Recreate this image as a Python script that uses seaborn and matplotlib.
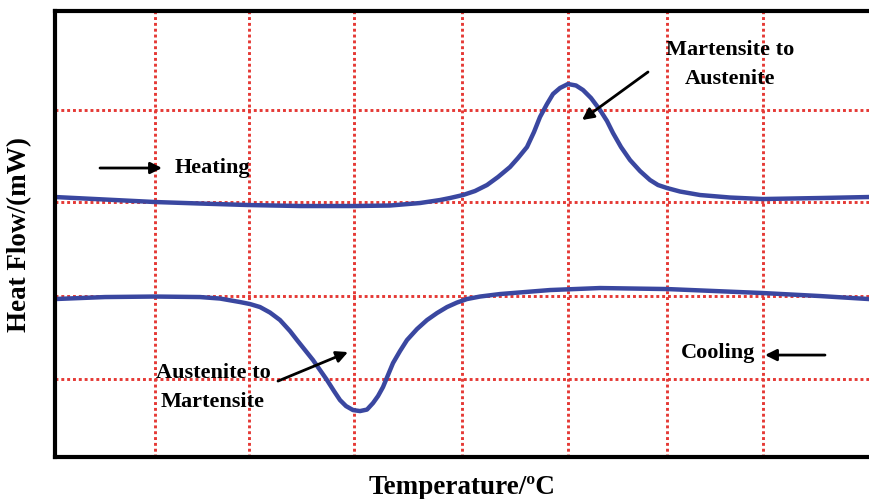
import matplotlib
matplotlib.use('Agg')
import matplotlib.pyplot as plt
import seaborn as sns
import pandas as pd

# heating run (upper trace)
heat_temp = [0.00, 0.50, 1.00, 1.45, 1.93, 2.45, 3.00, 3.35, 3.65, 3.75, 3.85, 3.95,
             4.08, 4.20, 4.32, 4.43, 4.55, 4.63, 4.72, 4.79, 4.85, 4.92, 4.98, 5.05,
             5.13, 5.21, 5.28, 5.36, 5.45, 5.52, 5.58, 5.66, 5.75, 5.85, 5.95, 6.03,
             6.12, 6.25, 6.45, 6.75, 7.08, 7.65, 8.14]
heat_flow = [2.60, 2.575, 2.55, 2.535, 2.52, 2.51, 2.51, 2.515, 2.54, 2.555, 2.57, 2.59,
             2.62, 2.66, 2.72, 2.80, 2.90, 2.99, 3.10, 3.25, 3.40, 3.53, 3.63, 3.69,
             3.73, 3.715, 3.67, 3.59, 3.47, 3.36, 3.24, 3.10, 2.97, 2.86, 2.77, 2.72,
             2.69, 2.655, 2.62, 2.595, 2.58, 2.59, 2.60]

# cooling run (lower trace)
cool_temp = [0.00, 0.50, 1.00, 1.45, 1.65, 1.85, 1.95, 2.05, 2.15, 2.25, 2.35, 2.42,
             2.50, 2.58, 2.65, 2.72, 2.79, 2.85, 2.91, 2.98, 3.05, 3.12, 3.18, 3.23,
             3.28, 3.33, 3.38, 3.45, 3.52, 3.62, 3.72, 3.82, 3.92, 4.02, 4.12, 4.25,
             4.45, 4.95, 5.45, 6.12, 7.08, 7.65, 8.14]
cool_flow = [1.58, 1.60, 1.605, 1.60, 1.585, 1.55, 1.53, 1.50, 1.445, 1.37, 1.26, 1.17,
             1.07, 0.97, 0.87, 0.77, 0.66, 0.57, 0.51, 0.47, 0.46, 0.475, 0.54, 0.61,
             0.70, 0.82, 0.94, 1.06, 1.17, 1.28, 1.37, 1.44, 1.50, 1.545, 1.58, 1.605,
             1.63, 1.67, 1.69, 1.68, 1.64, 1.61, 1.58]

grid_x = [1.00, 1.94, 2.99, 4.07, 5.13, 6.12, 7.08]
grid_y = [0.78, 1.61, 2.55, 3.47]

sns.set_style('white')
plt.rcParams['font.family'] = ['Liberation Serif', 'DejaVu Serif']
plt.rcParams['font.weight'] = 'bold'
plt.rcParams['text.color'] = 'black'
plt.rcParams['axes.labelcolor'] = 'black'

heat = pd.DataFrame({'temp': heat_temp, 'flow': heat_flow})
cool = pd.DataFrame({'temp': cool_temp, 'flow': cool_flow})

fig = plt.figure(figsize=(8.69, 4.99), dpi=100)
ax = fig.add_axes([0.0633, 0.084, 0.9367, 0.894])

line_color = '#3a47a0'
for df in (heat, cool):
    sns.lineplot(data=df, x='temp', y='flow', sort=False, estimator=None,
                 color=line_color, linewidth=3.2, ax=ax,
                 solid_joinstyle='round', solid_capstyle='round')

ax.set_xlim(0, 8.14)
ax.set_ylim(0, 4.46)
ax.set_xticks(grid_x)
ax.set_yticks(grid_y)
ax.set_xticklabels([])
ax.set_yticklabels([])
ax.tick_params(length=0)
ax.grid(True, color='#e53935', linestyle=(0, (1, 1)), linewidth=2.1)
ax.set_axisbelow(True)

for side in ['left', 'top', 'bottom']:
    ax.spines[side].set_color('black')
    ax.spines[side].set_linewidth(3)
ax.spines['right'].set_visible(False)

ax.set_xlabel('Temperature/ºC', fontsize=19.5, fontweight='bold')
ax.set_ylabel('Heat Flow/(mW)', fontsize=19.5, fontweight='bold')
ax.xaxis.set_label_coords(0.5, -0.04)
ax.yaxis.set_label_coords(-0.028, 0.5)

arrow = dict(arrowstyle='-|>', color='black', lw=2, mutation_scale=17, shrinkA=0, shrinkB=0)
txt = dict(fontsize=16, fontweight='bold', linespacing=1.6, color='black')

ax.annotate('', xy=(1.07, 2.89), xytext=(0.45, 2.89), arrowprops=arrow)
ax.text(1.20, 2.89, 'Heating', ha='left', va='center', **txt)

ax.annotate('', xy=(5.27, 3.37), xytext=(5.93, 3.85), arrowprops=arrow)
ax.text(6.75, 3.92, 'Martensite to\nAustenite', ha='center', va='center', **txt)

ax.annotate('', xy=(2.93, 1.05), xytext=(2.23, 0.76), arrowprops=arrow)
ax.text(1.58, 0.70, 'Austenite to\nMartensite', ha='center', va='center', **txt)

ax.annotate('', xy=(7.10, 1.02), xytext=(7.70, 1.02), arrowprops=arrow)
ax.text(6.63, 1.04, 'Cooling', ha='center', va='center', **txt)

fig.savefig('out.png', dpi=100)
